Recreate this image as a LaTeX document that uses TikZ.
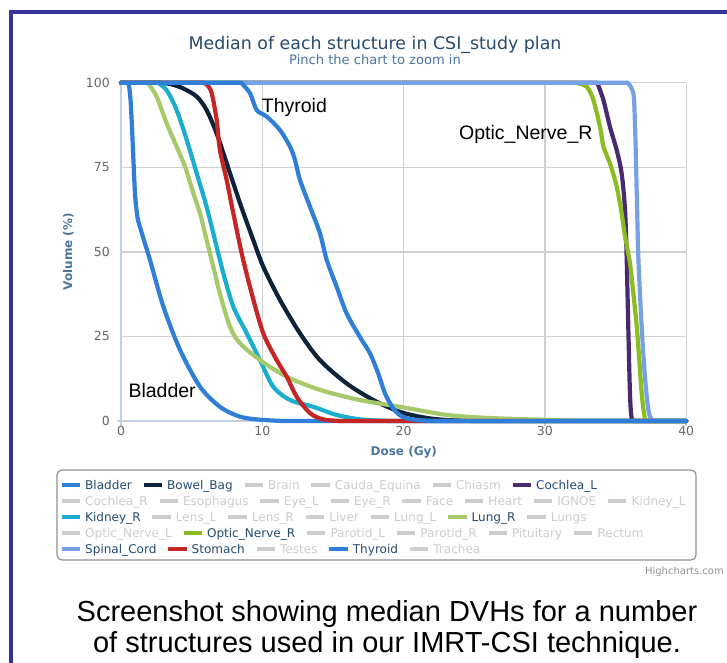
\documentclass[tikz,border=0pt]{standalone}
\usepackage{fontspec}
\setmainfont{DejaVu Sans}
\newfontfamily\arialfont{Liberation Sans}
\usetikzlibrary{calc}
\definecolor{frameblue}{RGB}{51,51,153}
\definecolor{hctitle}{HTML}{274B6D}
\definecolor{hcsub}{HTML}{4D759E}
\definecolor{hcactive}{HTML}{274B6D}
\definecolor{hcinactive}{HTML}{CCCCCC}
\definecolor{hctick}{HTML}{666666}
\definecolor{hcgrid}{HTML}{D0D0D0}
\definecolor{hcaxis}{HTML}{C0D0E0}
\definecolor{cBlue}{HTML}{2F7ED8}
\definecolor{cNavy}{HTML}{0D233A}
\definecolor{cGreen}{HTML}{8BBC21}
\definecolor{cCyan}{HTML}{1AADCE}
\definecolor{cPurple}{HTML}{492970}
\definecolor{cLightBlue}{HTML}{77A1E5}
\definecolor{cRed}{HTML}{C42525}
\definecolor{cLightGreen}{HTML}{A6C96A}
\definecolor{legborder}{HTML}{909090}
\newcommand\legfirst[5]{%
  \node[legtext,text=#4] (#1) at (85,#2) {#5};
  \draw[legsym,#3] ($(#1.base west)+(-23.3,-4.4)$) -- ($(#1.base west)+(-5,-4.4)$);}
\newcommand\legitem[5]{%
  \node[legtext,text=#4] (#1) at ($(#2.base east)+(34.9,0)$) {#5};
  \draw[legsym,#3] ($(#1.base west)+(-23.3,-4.4)$) -- ($(#1.base west)+(-5,-4.4)$);}
\begin{document}
\begin{tikzpicture}[x=1pt,y=-1pt,
  legtext/.style={anchor=base west,inner sep=0pt,font=\fontsize{12.05}{14}\selectfont},
  legsym/.style={line width=4pt},
  annot/.style={anchor=base west,inner sep=0pt,font=\arialfont\fontsize{19.5}{22}\selectfont,text=black},
  ticklab/.style={inner sep=0pt,font=\fontsize{12.5}{14}\selectfont,text=hctick},
  gridline/.style={draw=hcgrid,line width=1.3pt},
  axisline/.style={draw=hcaxis,line width=1.5pt},
  curve/.style={line width=4.2pt,line join=round,line cap=round},
  captext/.style={anchor=base,inner sep=0pt,font=\arialfont\fontsize{29}{32}\selectfont,text=black}]
\useasboundingbox (0,0) rectangle (727,662);
\fill[white] (0,0) rectangle (727,662);
% frame
\draw[frameblue,line width=4pt] (11,664) -- (11,12) -- (729,12);
% titles
\node[anchor=base,inner sep=0pt,font=\fontsize{17.4}{20}\selectfont,text=hctitle] (title) at (375,49) {Median of each structure in CSI\_study plan};
\node[anchor=base,inner sep=0pt,font=\fontsize{13.06}{15}\selectfont,text=hcsub] (subtitle) at (375,64.5) {Pinch the chart to zoom in};
% plot
\begin{scope}[x=14.13pt,y=3.383pt,shift={(121pt,-421pt)}]
  \foreach \v in {25,50,75,100} \draw[gridline] (0,\v) -- (40,\v);
  \foreach \d in {10,20,30,40} \draw[gridline] (\d,0) -- (\d,100);
  \draw[axisline] (0,0) -- (0,100);
  \draw[axisline] (-0.3,0) -- (40,0);
  \foreach \d in {0,10,20,30,40} \draw[axisline] (\d,0) -- ++(0,-1.5);
  \foreach \v in {0,25,50,75,100} \node[ticklab,anchor=east] (yl\v) at (-0.78,\v) {\v};
  \foreach \d in {0,10,20,30,40} \node[ticklab] (xl\d) at (\d,-2.9) {\d};
  % Bladder
  \draw[curve,cBlue] (0,100) -- plot[smooth,tension=0.5] coordinates {(0.45,100) (0.56,99.3) (0.69,94) (0.83,82) (0.99,67.3) (1.16,60.4) (1.34,57.4) (2.05,47.6) (3.0,33.8) (4.18,21) (5.6,10.1) (7.0,4.2) (8.4,1.3) (9.8,0.4) (11.5,0)} -- (40,0);
  % Bowel_Bag
  \draw[curve,cNavy] (0,100) -- plot[smooth,tension=0.5] coordinates {(2.7,100) (3.5,99.6) (4.4,98.3) (5.36,95.9) (6.06,91.9) (6.77,85) (7.48,76.2) (8.42,64.4) (9.36,53.5) (10.07,45.6) (11.25,35.8) (12.67,25.9) (14.08,18) (15.97,11.1) (17.86,6.2) (19.74,2.7) (21.5,1) (23,0.3) (25,0)} -- (40,0);
  % Cochlea_L
  \draw[curve,cPurple] (0,100) -- plot[smooth,tension=0.5] coordinates {(33.7,100) (34.14,94.9) (34.6,87) (35.08,80.1) (35.43,73.2) (35.67,62.4) (35.79,47.6) (35.9,27.9) (36.02,8.2) (36.14,0.8) (36.4,0)} -- (40,0);
  % Kidney_R
  \draw[curve,cCyan] (0,100) -- plot[smooth,tension=0.5] coordinates {(2.6,100) (3.23,97.8) (3.94,91.9) (4.65,83.1) (5.36,73.2) (6.06,63.3) (6.65,53.5) (7.24,43.7) (7.95,33.8) (8.9,25.9) (9.84,18) (10.78,10.1) (11.96,6.2) (13.61,4.2) (15.26,1.8) (16.9,0.5) (19,0)} -- (40,0);
  % Lung_R
  \draw[curve,cLightGreen] (0,100) -- plot[smooth,tension=0.5] coordinates {(1.9,100) (2.52,95.9) (3.23,88) (3.94,81.1) (4.53,75.2) (5.12,67.3) (5.59,61.4) (6.06,53.5) (6.53,45.6) (7.0,37.7) (7.71,27.9) (8.42,23) (9.84,18) (11.73,13.1) (14.08,9.2) (16.9,6.2) (19.74,4.2) (23.05,1.8) (26,0.9) (29.6,0.4) (33,0)} -- (40,0);
  % Optic_Nerve_R
  \draw[curve,cGreen] (0,100) -- plot[smooth,tension=0.5] coordinates {(32.2,100) (32.96,98.8) (33.43,94.9) (33.9,87) (34.14,81.1) (34.6,76.2) (35.08,69.3) (35.43,61.4) (35.67,54.5) (36.02,46.6) (36.26,37.7) (36.5,27.9) (36.68,18) (36.85,8.2) (37.08,0.8) (37.4,0)} -- (40,0);
  % Spinal_Cord
  \draw[curve,cLightBlue] (0,100) -- plot[smooth,tension=0.5] coordinates {(35.85,100) (36.26,96.9) (36.38,87) (36.5,67.3) (36.62,47.6) (36.85,27.9) (37.08,13.1) (37.32,3.3) (37.55,0.5) (37.9,0)} -- (40,0);
  % Stomach
  \draw[curve,cRed] (0,100) -- plot[smooth,tension=0.5] coordinates {(5.8,100) (6.1,99.4) (6.42,96.9) (6.77,89) (7.0,80.1) (7.48,71.2) (7.95,61.4) (8.54,49.6) (9.25,37.7) (10.07,25.9) (11.02,18) (11.73,13.1) (12.43,7.2) (13.38,2.3) (14.3,0.5) (15.5,0)} -- (40,0);
  % Thyroid
  \draw[curve,cBlue] (0,100) -- plot[smooth,tension=0.5] coordinates {(8.5,100) (9.13,96.9) (9.6,91.9) (10.31,90) (11.25,86) (11.96,81.1) (12.31,77.2) (12.67,71.2) (13.38,63.3) (14.08,55.5) (14.56,47.6) (15.26,39.7) (15.97,31.8) (16.9,24.9) (17.62,20) (18.2,14.1) (18.7,8) (19.3,3.5) (19.9,1.3) (20.7,0.4) (22,0)} -- (40,0);
\end{scope}
% axis titles
\node[rotate=90,inner sep=0pt,font=\bfseries\fontsize{12}{14}\selectfont,text=hcsub] (ytitle) at (68.3,251.7) {Volume (\%)};
\node[anchor=base,inner sep=0pt,font=\bfseries\fontsize{12}{14}\selectfont,text=hcsub] (xtitle) at (403.8,455) {Dose (Gy)};
% annotations
\node[annot] (aThyroid) at (261.7,112) {Thyroid};
\node[annot] (aOptic) at (459,139.7) {Optic\_Nerve\_R};
\node[annot] (aBladder) at (128.3,397) {Bladder};
% legend
\draw[legborder,line width=1.2pt,rounded corners=5pt] (57,470) rectangle (696,560);
\legfirst{lgBladder}{489.4}{cBlue}{hcactive}{Bladder}
\legitem{lgBowel}{lgBladder}{cNavy}{hcactive}{Bowel\_Bag}
\legitem{lgBrain}{lgBowel}{hcinactive}{hcinactive}{Brain}
\legitem{lgCauda}{lgBrain}{hcinactive}{hcinactive}{Cauda\_Equina}
\legitem{lgChiasm}{lgCauda}{hcinactive}{hcinactive}{Chiasm}
\legitem{lgCochL}{lgChiasm}{cPurple}{hcactive}{Cochlea\_L}
\legfirst{lgCochR}{505.4}{hcinactive}{hcinactive}{Cochlea\_R}
\legitem{lgEso}{lgCochR}{hcinactive}{hcinactive}{Esophagus}
\legitem{lgEyeL}{lgEso}{hcinactive}{hcinactive}{Eye\_L}
\legitem{lgEyeR}{lgEyeL}{hcinactive}{hcinactive}{Eye\_R}
\legitem{lgFace}{lgEyeR}{hcinactive}{hcinactive}{Face}
\legitem{lgHeart}{lgFace}{hcinactive}{hcinactive}{Heart}
\legitem{lgIgnoe}{lgHeart}{hcinactive}{hcinactive}{IGNOE}
\legitem{lgKidL}{lgIgnoe}{hcinactive}{hcinactive}{Kidney\_L}
\legfirst{lgKidR}{521.4}{cCyan}{hcactive}{Kidney\_R}
\legitem{lgLensL}{lgKidR}{hcinactive}{hcinactive}{Lens\_L}
\legitem{lgLensR}{lgLensL}{hcinactive}{hcinactive}{Lens\_R}
\legitem{lgLiver}{lgLensR}{hcinactive}{hcinactive}{Liver}
\legitem{lgLungL}{lgLiver}{hcinactive}{hcinactive}{Lung\_L}
\legitem{lgLungR}{lgLungL}{cLightGreen}{hcactive}{Lung\_R}
\legitem{lgLungs}{lgLungR}{hcinactive}{hcinactive}{Lungs}
\legfirst{lgOptL}{537.4}{hcinactive}{hcinactive}{Optic\_Nerve\_L}
\legitem{lgOptR}{lgOptL}{cGreen}{hcactive}{Optic\_Nerve\_R}
\legitem{lgParL}{lgOptR}{hcinactive}{hcinactive}{Parotid\_L}
\legitem{lgParR}{lgParL}{hcinactive}{hcinactive}{Parotid\_R}
\legitem{lgPit}{lgParR}{hcinactive}{hcinactive}{Pituitary}
\legitem{lgRect}{lgPit}{hcinactive}{hcinactive}{Rectum}
\legfirst{lgSpinal}{553.4}{cLightBlue}{hcactive}{Spinal\_Cord}
\legitem{lgStom}{lgSpinal}{cRed}{hcactive}{Stomach}
\legitem{lgTestes}{lgStom}{hcinactive}{hcinactive}{Testes}
\legitem{lgThyr}{lgTestes}{cBlue}{hcactive}{Thyroid}
\legitem{lgTrach}{lgThyr}{hcinactive}{hcinactive}{Trachea}
\node[anchor=east,inner sep=0pt,font=\fontsize{10}{12}\selectfont,text=legborder] (credit) at (724,572) {Highcharts.com};
% caption
\node[captext] (cap1) at (387,621) {Screenshot showing median DVHs for a number};
\node[captext] (cap2) at (387,652) {of structures used in our IMRT-CSI technique.};
\end{tikzpicture}
\end{document}
